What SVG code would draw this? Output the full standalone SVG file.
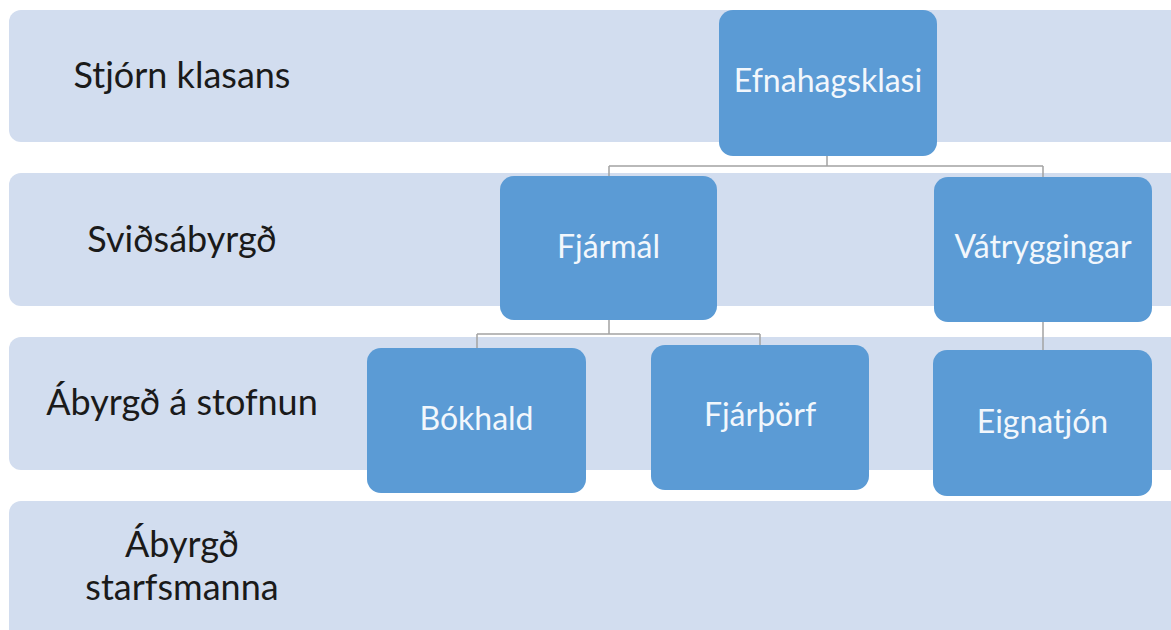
<svg xmlns="http://www.w3.org/2000/svg" width="1171" height="630" viewBox="0 0 1171 630">
<style>
.band{fill:#d2ddef}
.node{fill:#5b9bd5}
.lbl{font-family:Lato,"Open Sans","Liberation Sans",sans-serif;font-size:36px;fill:#1a1a1a;text-anchor:middle}
.ntxt{font-family:Lato,"Open Sans","Liberation Sans",sans-serif;font-size:32px;fill:#f2f7fc;text-anchor:middle}
.conn{fill:none;stroke:#a3a3a3;stroke-width:1.5}
</style>
<rect width="1171" height="630" fill="#ffffff"/>
<g id="bands">
<rect class="band" x="9" y="10" width="1180" height="132" rx="12"/>
<rect class="band" x="9" y="173" width="1180" height="133" rx="12"/>
<rect class="band" x="9" y="337" width="1180" height="133" rx="12"/>
<rect class="band" x="9" y="501" width="1180" height="150" rx="12"/>
</g>
<g id="labels">
<text class="lbl" x="182" y="88">Stjórn klasans</text>
<text class="lbl" x="182" y="252">Sviðsábyrgð</text>
<text class="lbl" x="182" y="415">Ábyrgð á stofnun</text>
<text class="lbl" x="182" y="557">Ábyrgð</text>
<text class="lbl" x="182" y="600">starfsmanna</text>
</g>
<g id="connectors">
<path class="conn" d="M827 156 V166 M609 166 H1043 M609 166 V176 M1043 166 V177"/>
<path class="conn" d="M609 320 V334 M477 334 H760 M477 334 V348 M760 334 V345"/>
<path class="conn" d="M1043 322 V350"/>
</g>
<g id="node-efnahagsklasi">
<rect class="node" x="719" y="10" width="218" height="146" rx="14"/>
<text class="ntxt" x="828" y="92">Efnahagsklasi</text>
</g>
<g id="node-fjarmal">
<rect class="node" x="500" y="176" width="217" height="144" rx="14"/>
<text class="ntxt" x="608.5" y="258">Fjármál</text>
</g>
<g id="node-vatryggingar">
<rect class="node" x="934" y="177" width="218" height="145" rx="14"/>
<text class="ntxt" x="1043" y="258">Vátryggingar</text>
</g>
<g id="node-bokhald">
<rect class="node" x="367" y="348" width="219" height="145" rx="14"/>
<text class="ntxt" x="476.5" y="430">Bókhald</text>
</g>
<g id="node-fjarthorf">
<rect class="node" x="651" y="345" width="218" height="145" rx="14"/>
<text class="ntxt" x="760" y="426">Fjárþörf</text>
</g>
<g id="node-eignatjon">
<rect class="node" x="933" y="350" width="219" height="146" rx="14"/>
<text class="ntxt" x="1042.5" y="433">Eignatjón</text>
</g>
</svg>
